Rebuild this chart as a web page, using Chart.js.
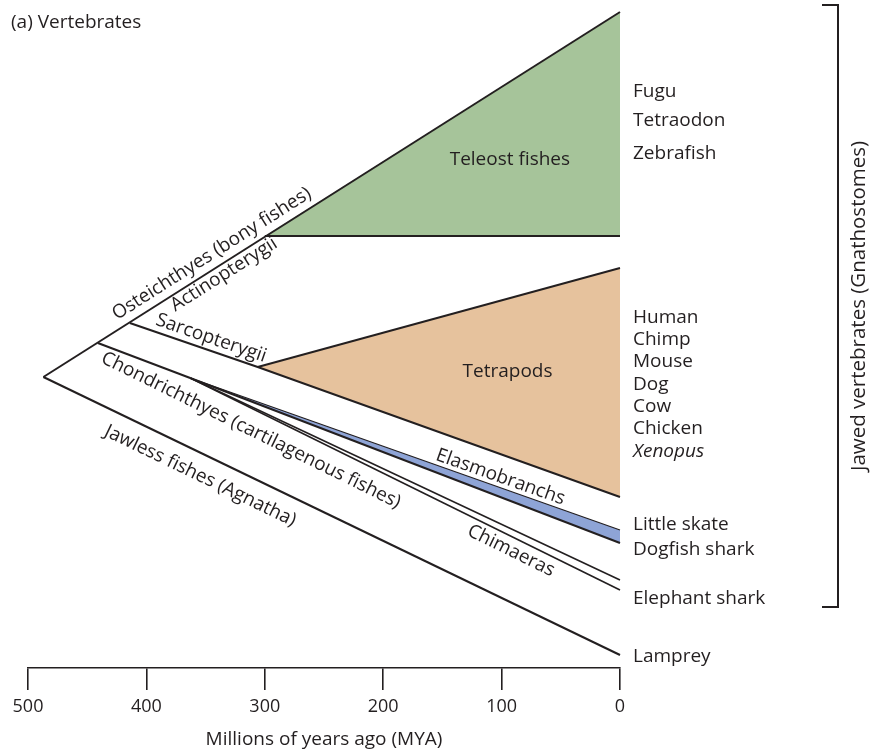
<!DOCTYPE html>
<html>
<head>
<meta charset="utf-8">
<script src="https://cdn.jsdelivr.net/npm/chart.js@4.4.1/dist/chart.umd.min.js"></script>
<style>
html,body{margin:0;padding:0;background:#ffffff;}
#wrap{width:873px;height:754px;position:relative;}
</style>
</head>
<body>
<div id="wrap"><canvas id="c" width="873" height="754"></canvas></div>
<script>
// ---------------- data ----------------
// divergence events: time in millions of years ago, and vertical lane in the tree
const divergenceNames = ['Jawed vs. jawless', 'Osteichthyes vs. Chondrichthyes', 'Actinopterygii vs. Sarcopterygii', 'Teleost radiation', 'Tetrapod radiation', 'Elasmobranchs vs. Chimaeras'];
const divergenceMya  = [487, 441, 414, 300, 306, 363];
const divergenceLane = [377, 343, 323, 236, 367, 378];
// present-day tips (0 MYA) and their lanes
const tipNames = ['Teleosts (top)', 'Teleosts (bottom)', 'Tetrapods (top)', 'Tetrapods (bottom)', 'Elasmobranchs (top)', 'Elasmobranchs (bottom)', 'Chimaeras (top)', 'Chimaeras (bottom)', 'Lamprey'];
const tipMya  = [0, 0, 0, 0, 0, 0, 0, 0, 0];
const tipLane = [12, 236, 268, 497, 530, 543, 580, 590, 655];
// species names
const teleostSpecies  = ['Fugu', 'Tetraodon', 'Zebrafish'];
const tetrapodSpecies = ['Human', 'Chimp', 'Mouse', 'Dog', 'Cow', 'Chicken', 'Xenopus'];
const otherSpecies    = ['Little skate', 'Dogfish shark', 'Elephant shark', 'Lamprey'];
// time axis
const axisTicks = [500, 400, 300, 200, 100, 0];
const axisTitle = 'Millions of years ago (MYA)';

// ---------------- layout / style ----------------
const INK = '#231f20';
const FONT = '"Open Sans"';
const FS = 19;
const DY = 2; // optical baseline correction for horizontal labels
const GREEN = '#a6c49a';
const TAN = '#e6c29d';
const BLUE = '#8ea4d6';

const N = i => ({x: divergenceMya[i], y: divergenceLane[i]});
const T = i => ({x: tipMya[i], y: tipLane[i]});

const fillDS = (data, color, fill) => ({data, showLine: true, pointRadius: 0, borderWidth: 0, borderColor: 'rgba(0,0,0,0)', backgroundColor: color, fill, order: 5, clip: false});
const lineDS = (data, w) => ({data, showLine: true, pointRadius: 0, borderWidth: w, borderColor: INK, backgroundColor: INK, fill: false, order: 1, clip: false});

const datasets = [
  fillDS([N(3), T(0)], GREEN, '+1'),   // 0 teleost upper edge
  fillDS([N(3), T(1)], GREEN, false),  // 1 teleost lower edge
  fillDS([N(4), T(2)], TAN, '+1'),     // 2 tetrapod upper edge
  fillDS([N(4), T(3)], TAN, false),    // 3 tetrapod lower edge
  fillDS([N(5), T(4)], BLUE, '+1'),    // 4 elasmobranch upper edge
  fillDS([N(5), T(5)], BLUE, false),   // 5 elasmobranch lower edge
  lineDS([N(0), T(0)], 2),             // 6 Osteichthyes / Actinopterygii stem
  lineDS([N(2), N(4), T(3)], 2),       // 7 Sarcopterygii
  lineDS([N(4), T(2)], 2),             // 8 tetrapod top
  lineDS([N(3), T(1)], 2),             // 9 teleost bottom
  lineDS([N(1), N(5)], 2),             // 10 Chondrichthyes stem
  lineDS([N(5), T(4)], 1.2),           // 11 elasmobranch top
  lineDS([N(5), T(5)], 2),             // 12 elasmobranch bottom
  lineDS([N(5), T(6)], 1.6),           // 13 chimaera a
  lineDS([N(5), T(7)], 1.6),           // 14 chimaera b
  lineDS([N(0), T(8)], 2)              // 15 lamprey
];

// labels placed along branches: dataset index, fraction along the branch, perpendicular offset
const branchLabels = [
  {text: 'Osteichthyes (bony fishes)', ds: 6, t: 0.305, off: -14},
  {text: 'Actinopterygii', ds: 6, t: 0.304, off: 10},
  {text: 'Sarcopterygii', ds: 7, t: 0.605, off: -12},
  {text: 'Chondrichthyes (cartilagenous fishes)', ds: 14, t: 0.162, off: 20},
  {text: 'Jawless fishes (Agnatha)', ds: 15, t: 0.288, off: 21},
  {text: 'Elasmobranchs', ds: 11, t: 0.714, off: -10},
  {text: 'Chimaeras', ds: 14, t: 0.76, off: 13}
];
const teleostLabelLanes = [90, 119, 152];
const tetrapodLabelLanes = [316, 338, 360, 383, 405, 427, 450];
const otherLabelLanes = [523, 548, 597, 655];

const labelPlugin = {
  id: 'treeLabels',
  afterDatasetsDraw(chart) {
    const ctx = chart.ctx, xs = chart.scales.x, ys = chart.scales.y;
    ctx.save();
    ctx.fillStyle = INK;
    ctx.textBaseline = 'middle';
    // branch labels
    ctx.textAlign = 'center';
    ctx.font = FS + 'px ' + FONT;
    for (const b of branchLabels) {
      const pts = chart.getDatasetMeta(b.ds).data;
      const a = pts[0], c = pts[1];
      const ang = Math.atan2(c.y - a.y, c.x - a.x);
      ctx.save();
      ctx.translate(a.x + (c.x - a.x) * b.t, a.y + (c.y - a.y) * b.t);
      ctx.rotate(ang);
      ctx.fillText(b.text, 0, b.off);
      ctx.restore();
    }
    // clade names
    ctx.fillText('Teleost fishes', xs.getPixelForValue(93), ys.getPixelForValue(158) + DY);
    ctx.fillText('Tetrapods', xs.getPixelForValue(95), ys.getPixelForValue(370) + DY);
    // species
    ctx.textAlign = 'left';
    const sx = xs.getPixelForValue(0) + 13;
    teleostSpecies.forEach((s, i) => ctx.fillText(s, sx, ys.getPixelForValue(teleostLabelLanes[i]) + DY));
    tetrapodSpecies.forEach((s, i) => {
      ctx.font = (s === 'Xenopus' ? 'italic ' : '') + FS + 'px ' + FONT;
      ctx.fillText(s, sx, ys.getPixelForValue(tetrapodLabelLanes[i]) + DY);
    });
    ctx.font = FS + 'px ' + FONT;
    otherSpecies.forEach((s, i) => ctx.fillText(s, sx, ys.getPixelForValue(otherLabelLanes[i]) + DY));
    // panel title
    ctx.font = FS + 'px ' + FONT;
    ctx.fillText('(a) Vertebrates', 11, 21 + DY);
    // bracket for jawed vertebrates
    ctx.strokeStyle = INK;
    ctx.lineWidth = 2;
    ctx.beginPath();
    ctx.moveTo(822, 5); ctx.lineTo(838, 5); ctx.lineTo(838, 607); ctx.lineTo(822, 607);
    ctx.stroke();
    ctx.save();
    ctx.translate(859, 306);
    ctx.rotate(-Math.PI / 2);
    ctx.textAlign = 'center';
    ctx.font = '20.5px ' + FONT;
    ctx.fillText('Jawed vertebrates (Gnathostomes)', 0, 0);
    ctx.restore();
    ctx.restore();
  }
};

new Chart(document.getElementById('c'), {
  type: 'scatter',
  data: {datasets},
  options: {
    responsive: false,
    animation: false,
    devicePixelRatio: 1,
    layout: {padding: {left: 28, right: 253, top: 0, bottom: 0}},
    plugins: {
      legend: {display: false},
      tooltip: {enabled: false},
      filler: {drawTime: 'beforeDatasetsDraw'}
    },
    scales: {
      x: {
        type: 'linear',
        reverse: true,
        min: 0,
        max: 500,
        afterBuildTicks: s => { s.ticks = axisTicks.map(v => ({value: v})); },
        ticks: {color: INK, font: {family: FONT, size: 18}, padding: 6, maxRotation: 0, autoSkip: false},
        grid: {display: true, drawOnChartArea: false, drawTicks: true, tickLength: 22, color: INK, lineWidth: 1.6},
        border: {display: true, color: INK, width: 1.6},
        title: {display: true, text: axisTitle, color: INK, font: {family: FONT, size: 19}, padding: {top: 4.6, bottom: 3}}
      },
      y: {
        type: 'linear',
        display: false,
        reverse: true,
        min: 0,
        max: 668
      }
    }
  },
  plugins: [labelPlugin]
});
</script>
</body>
</html>
